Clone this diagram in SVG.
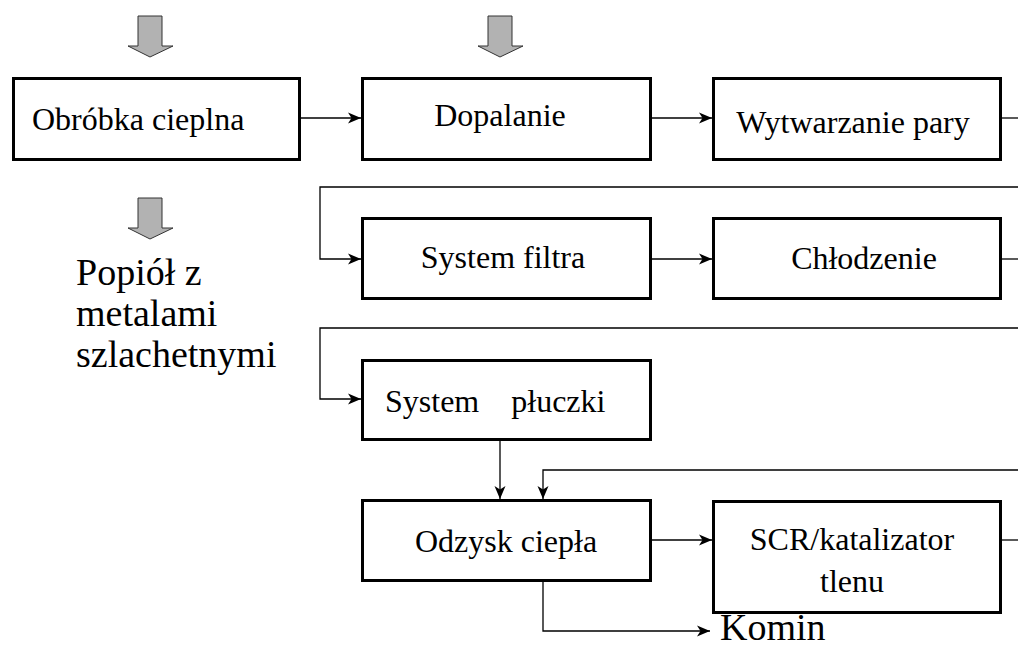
<svg xmlns="http://www.w3.org/2000/svg" width="1018" height="648" viewBox="0 0 1018 648">
<style>
.box{fill:#fff;stroke:#000;stroke-width:3}
.t{font-family:"Liberation Serif","Times New Roman",serif;font-size:32px;fill:#000}
.big{font-family:"Liberation Serif","Times New Roman",serif;font-size:38px;fill:#000}
.c{fill:none;stroke:#000;stroke-width:1.3}
.ga{fill:#b2b2b2;stroke:#333;stroke-width:1}
</style>
<defs>
<marker id="ah" markerUnits="userSpaceOnUse" markerWidth="14" markerHeight="12" refX="13" refY="6" orient="auto">
<path d="M0,0.5 L13,6 L0,11.5 L3.5,6 Z" fill="#000"/>
</marker>
<path id="gar" d="M-12,0 H12 V30 H23 L0,41 L-22,30 H-12 Z"/>
</defs>
<g id="input-arrows">
<use href="#gar" class="ga" x="150" y="16"/>
<use href="#gar" class="ga" x="500" y="16"/>
</g>
<g id="connectors">
<line class="c" x1="301" y1="118" x2="361" y2="118" marker-end="url(#ah)"/>
<line class="c" x1="652" y1="118" x2="712" y2="118" marker-end="url(#ah)"/>
<line class="c" x1="1002" y1="118" x2="1018" y2="118"/>
<polyline class="c" points="1018,187 320,187 320,259 361,259" marker-end="url(#ah)"/>
<line class="c" x1="652" y1="259" x2="712" y2="259" marker-end="url(#ah)"/>
<line class="c" x1="1002" y1="259" x2="1018" y2="259"/>
<polyline class="c" points="1018,328 320,328 320,399 361,399" marker-end="url(#ah)"/>
<line class="c" x1="500" y1="440" x2="500" y2="499" marker-end="url(#ah)"/>
<polyline class="c" points="1018,470 543,470 543,499" marker-end="url(#ah)"/>
<line class="c" x1="652" y1="540" x2="712" y2="540" marker-end="url(#ah)"/>
<line class="c" x1="1002" y1="540" x2="1018" y2="540"/>
<polyline class="c" points="543,582 543,631 710,631" marker-end="url(#ah)"/>
</g>
<g id="obrobka">
<rect class="box" x="13.5" y="78.5" width="286" height="81"/>
<text class="t" x="32" y="130">Obróbka cieplna</text>
</g>
<g id="dopalanie">
<rect class="box" x="362.5" y="78.5" width="288" height="81"/>
<text class="t" x="500" y="126" text-anchor="middle">Dopalanie</text>
</g>
<g id="wytwarzanie">
<rect class="box" x="713.5" y="78.5" width="287" height="81"/>
<text class="t" x="853" y="133" text-anchor="middle">Wytwarzanie pary</text>
</g>
<g id="popiol">
<use href="#gar" class="ga" x="150" y="198"/>
<text class="big" x="76" y="285">Popiół z</text>
<text class="big" x="76" y="326">metalami</text>
<text class="big" x="76" y="367">szlachetnymi</text>
</g>
<g id="filtr">
<rect class="box" x="362.5" y="218.5" width="288" height="80"/>
<text class="t" x="503" y="268" text-anchor="middle">System filtra</text>
</g>
<g id="chlodzenie">
<rect class="box" x="713.5" y="218.5" width="287" height="80"/>
<text class="t" x="864" y="269" text-anchor="middle">Chłodzenie</text>
</g>
<g id="pluczka">
<rect class="box" x="362.5" y="360.5" width="288" height="79"/>
<text class="t" x="385" y="412" xml:space="preserve">System    płuczki</text>
</g>
<g id="odzysk">
<rect class="box" x="362.5" y="500.5" width="288" height="80"/>
<text class="t" x="506" y="552" text-anchor="middle">Odzysk ciepła</text>
</g>
<g id="scr">
<rect class="box" x="713.5" y="501.5" width="287" height="111"/>
<text class="t" x="852" y="550" text-anchor="middle">SCR/katalizator</text>
<text class="t" x="852" y="592" text-anchor="middle">tlenu</text>
</g>
<g id="komin">
<text class="big" x="720" y="640">Komin</text>
</g>
</svg>
